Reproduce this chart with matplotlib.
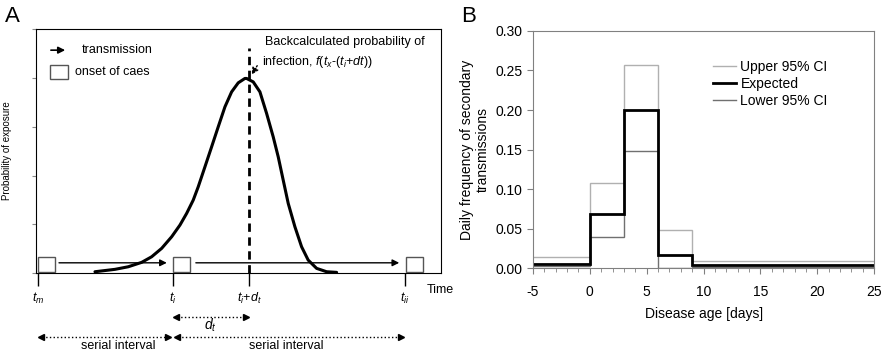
import numpy as np
import matplotlib.pyplot as plt

plt.rcParams['font.family'] = ['Liberation Sans', 'DejaVu Sans']
plt.rcParams['mathtext.fontset'] = 'custom'
plt.rcParams['mathtext.rm'] = 'Liberation Sans'
plt.rcParams['mathtext.it'] = 'Liberation Sans:italic'
plt.rcParams['axes.unicode_minus'] = False

# panel A: schematic, x in 0..100, y in 0..5
curve_x = [14.57, 19.51, 22.79, 26.10, 28.57, 31.04, 33.51, 35.56, 37.21, 38.84,
           40.07, 41.73, 43.38, 45.01, 46.67, 48.32, 49.95, 51.60, 52.02, 53.65,
           55.31, 56.96, 58.59, 59.83, 61.06, 62.30, 63.95, 65.60, 67.23, 69.31,
           71.78, 74.25]
curve_y = [0.027, 0.076, 0.129, 0.219, 0.334, 0.506, 0.744, 0.984, 1.223, 1.496,
           1.768, 2.178, 2.588, 2.998, 3.408, 3.715, 3.900, 3.990, 3.990, 3.920,
           3.715, 3.273, 2.793, 2.383, 1.906, 1.428, 0.949, 0.539, 0.266, 0.096,
           0.027, 0.014]
t_pos = [0.5, 33.8, 52.6, 91.1]
t_labels = ['$t_m$', '$t_i$', '$t_i$+$d_t$', '$t_{ii}$']
box_x = [0.5, 33.8, 91.4]

# panel B: daily frequency of secondary transmissions
edges = [-5, 0, 3, 6, 9, 25]
expected = [0.0056, 0.069, 0.200, 0.017, 0.0034]
upper = [0.014, 0.108, 0.257, 0.048, 0.0085]
lower = [0.002, 0.039, 0.148, 0.0, 0.001]

fig = plt.figure(figsize=(8.86, 3.56), dpi=100)

#%% panel A
ax = fig.add_axes([0.0406, 0.233, 0.457, 0.685])
ax.set_xlim(0, 100)
ax.set_ylim(0, 5)
ax.plot(curve_x, curve_y, color='black', lw=2.2, solid_capstyle='round', solid_joinstyle='round')
ax.plot([52.6, 52.6], [0, 4.61], color='black', lw=2, ls=(0, (3, 2)))

bw, bh = 4.3, 0.30
for bx in box_x:
    ax.add_patch(plt.Rectangle((bx, 0.02), bw, bh, fill=False, ec='#555555', lw=1, zorder=3))
ax.annotate('', xy=(33.0, 0.21), xytext=(5.0, 0.21),
            arrowprops=dict(arrowstyle='-|>', color='black', lw=1, mutation_scale=10))
ax.annotate('', xy=(90.4, 0.21), xytext=(38.8, 0.21),
            arrowprops=dict(arrowstyle='-|>', color='black', lw=1, mutation_scale=10))

# key
ax.annotate('', xy=(7.9, 4.57), xytext=(3.0, 4.57),
            arrowprops=dict(arrowstyle='-|>', color='black', lw=1.2, mutation_scale=10))
ax.text(11.4, 4.57, 'transmission', fontsize=9, va='center')
ax.add_patch(plt.Rectangle((3.5, 3.98), 4.3, 0.29, fill=False, ec='#555555', lw=1))
ax.text(9.6, 4.12, 'onset of caes', fontsize=9, va='center')

ax.text(56.5, 4.73, 'Backcalculated probability of', fontsize=9, va='center')
ax.text(55.8, 4.32, 'infection, $f(t_x$-$(t_i$+$dt))$', fontsize=9, va='center')
ax.annotate('', xy=(52.9, 4.02), xytext=(55.0, 4.30),
            arrowprops=dict(arrowstyle='-|>', color='black', lw=1, ls=':', mutation_scale=10))

ax.set_xticks(t_pos)
ax.set_xticklabels(t_labels, fontsize=9)
ax.tick_params(axis='x', direction='out', length=9.5, width=1, pad=3)
ax.set_yticks([0, 1, 2, 3, 4, 5])
ax.set_yticklabels([])
ax.tick_params(axis='y', direction='out', length=3, color='#888888')
ax.set_ylabel('Probability of exposure', fontsize=7)
ax.yaxis.set_label_coords(-0.058, 0.5)
ax.text(96.5, -0.35, 'Time', fontsize=9, va='center', clip_on=False)

# intervals below the axis
def dotted_span(x0, x1, y):
    ax.plot([x0 + 1, x1 - 1], [y, y], color='black', lw=1, ls=':', clip_on=False)
    ax.plot([x0 + 0.8], [y], marker='<', color='black', ms=5, clip_on=False)
    ax.plot([x1 - 0.8], [y], marker='>', color='black', ms=5, clip_on=False)

dotted_span(33.8, 52.6, -0.895)
ax.text(43.0, -1.07, '$d_t$', fontsize=10, ha='center', va='center')
dotted_span(0.5, 33.5, -1.305)
dotted_span(34.0, 90.9, -1.305)
ax.text(20.2, -1.50, 'serial interval', fontsize=9, ha='center', va='center')
ax.text(61.7, -1.50, 'serial interval', fontsize=9, ha='center', va='center')

fig.text(0.006, 0.955, 'A', fontsize=16, va='center')

#%% panel B
bx_ = fig.add_axes([0.6016, 0.247, 0.385, 0.666])
bx_.stairs(upper, edges, baseline=None, color='#b0b0b0', lw=1, label='Upper 95% CI')
bx_.stairs(lower, edges, baseline=None, color='#707070', lw=1, label='Lower 95% CI')
bx_.stairs(expected, edges, baseline=None, color='black', lw=2, label='Expected')
bx_.set_xlim(-5, 25)
bx_.set_ylim(0, 0.30)
bx_.set_xticks(range(-5, 26, 5))
bx_.set_xticks(range(-5, 26, 1), minor=True)
bx_.set_yticks(np.arange(0, 0.301, 0.05))
bx_.set_yticklabels(['%.2f' % v for v in np.arange(0, 0.301, 0.05)])
bx_.tick_params(which='both', direction='out', color='#808080', labelsize=10)
bx_.tick_params(axis='x', which='major', length=4, pad=8)
bx_.tick_params(axis='y', which='major', length=4)
bx_.tick_params(which='minor', length=3)
for s in bx_.spines.values():
    s.set_color('#808080')
bx_.set_xlabel('Disease age [days]', fontsize=10, labelpad=6)
bx_.set_ylabel('Daily frequency of secondary\ntransmissions', fontsize=10)
h, l = bx_.get_legend_handles_labels()
bx_.legend([h[0], h[2], h[1]], [l[0], l[2], l[1]], loc='upper left',
           bbox_to_anchor=(0.49, 0.93), frameon=False, fontsize=10,
           handlelength=1.7, handletextpad=0.3, labelspacing=0.2)

fig.text(0.521, 0.955, 'B', fontsize=16, va='center')

plt.savefig('out.png', dpi=100)
